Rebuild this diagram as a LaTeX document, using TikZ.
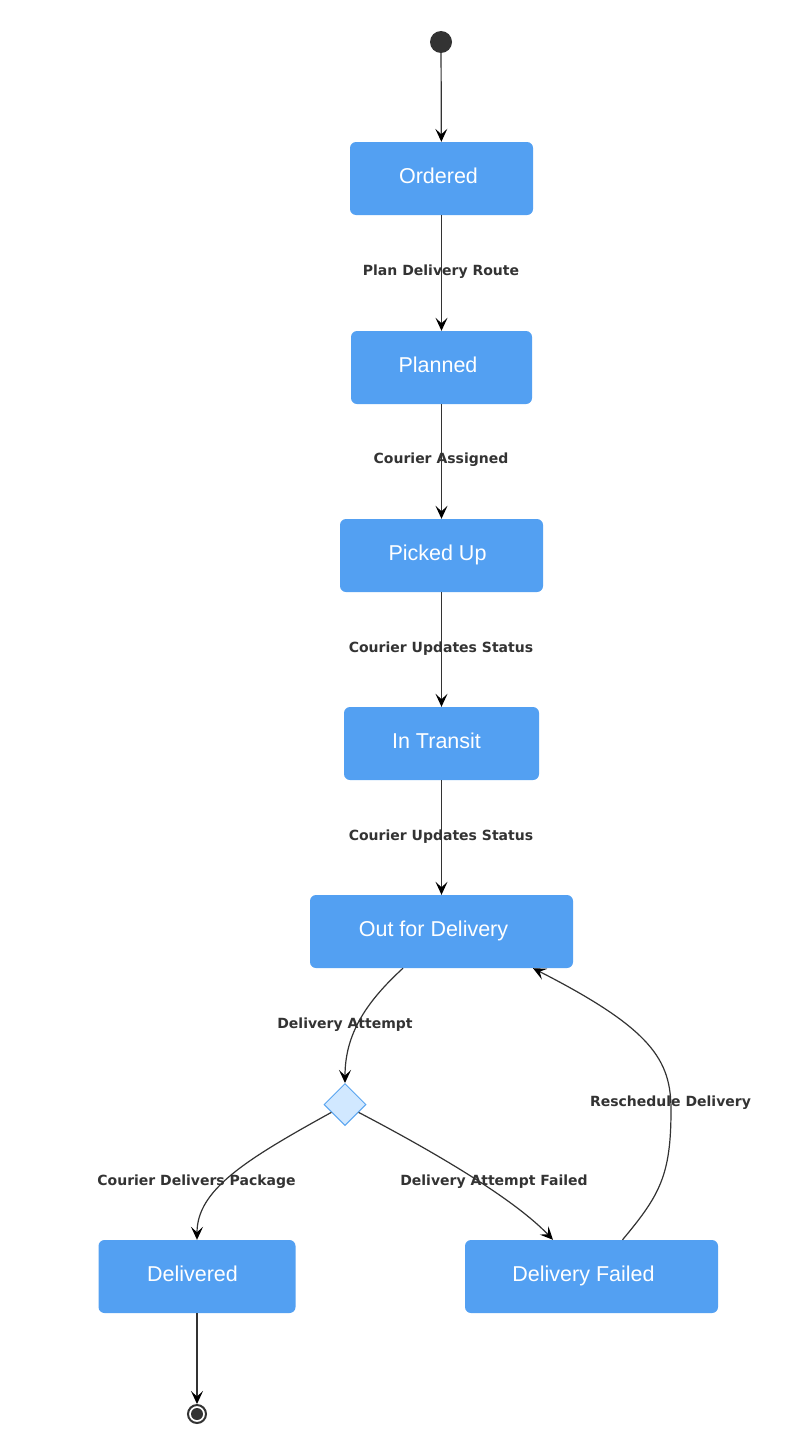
\documentclass[tikz,border=0pt]{standalone}
\usepackage{fontspec}
\setmainfont{Liberation Sans}
\newfontfamily\lblfont{DejaVu Sans}
\usetikzlibrary{arrows.meta,shapes.geometric}

\definecolor{boxblue}{RGB}{83,160,242}
\definecolor{ink}{RGB}{51,51,51}
\definecolor{choicefill}{RGB}{209,232,255}
\definecolor{choiceline}{RGB}{90,165,240}

\tikzset{
  state/.style={rectangle, rounded corners=6pt, fill=boxblue, text=white,
    minimum height=73pt, inner sep=0pt, text height=16pt, text depth=5.5pt,
    font=\fontsize{21.5}{24}\selectfont},
  lbl/.style={text=ink, inner sep=0pt, text height=10pt, text depth=0pt,
    font=\lblfont\bfseries\fontsize{14}{16}\selectfont},
  trans/.style={draw=ink, line width=1.2pt,
    -{Stealth[length=13pt,width=12pt,inset=5.5pt,black]}},
}

\begin{document}
\begin{tikzpicture}[x=1pt,y=-1pt]
 \fill[white] (0,0) rectangle (803,1437);
 \useasboundingbox (0,0) rectangle (803,1437);

 % states
 \node[circle, fill=ink, minimum size=22pt, inner sep=0pt] (start) at (441,42) {};
 \node[state, minimum width=183pt] (ordered) at (441.5,178.5) {\hspace*{-6pt}Ordered};
 \node[state, minimum width=181pt] (planned) at (441.5,367.5) {\hspace*{-7pt}Planned};
 \node[state, minimum width=203pt] (picked) at (441.5,555.5) {\hspace*{-8pt}Picked Up};
 \node[state, minimum width=195pt] (transit) at (441.5,743.5) {\hspace*{-10pt}In Transit};
 \node[state, minimum width=263pt] (outdel) at (441.5,931.5) {\hspace*{-16pt}Out for Delivery};
 \node[diamond, fill=choicefill, draw=choiceline, line width=1pt,
   minimum size=42pt, inner sep=0pt] (choice) at (345,1104.5) {};
 \node[state, minimum width=197pt] (delivered) at (197,1276.5) {\hspace*{-9pt}Delivered};
 \node[state, minimum width=253pt] (failed) at (591.5,1276.5) {\hspace*{-16pt}Delivery Failed};
 \node[circle, draw=ink, line width=2pt, minimum size=18pt, inner sep=0pt] (stop) at (197,1414) {};
 \fill[ink] (stop.center) circle (6pt);

 % transitions
 \draw[trans] (start) -- (ordered);
 \draw[trans] (ordered) -- (planned);
 \draw[trans] (planned) -- (picked);
 \draw[trans] (picked) -- (transit);
 \draw[trans] (transit) -- (outdel);
 \draw[trans] ([xshift=-38.5pt]outdel.south) .. controls (365,1003) and (345,1035) .. (choice.north);
 \draw[trans] (choice.210) .. controls (245,1160) and (197,1190) .. (delivered.north);
 \draw[trans] (choice.330) .. controls (440,1155) and (515,1200) .. ([xshift=-38.5pt]failed.north);
 \draw[trans] ([xshift=31pt]failed.north) .. controls (660,1195) and (671,1175) .. (671,1110)
   .. controls (671,1060) and (652,1029) .. ([xshift=91.5pt]outdel.south);
 \draw[trans] (delivered) -- (stop);

 % labels
 \node[lbl] (lplan) at (441,270) {Plan Delivery Route};
 \node[lbl] (lassign) at (441,458) {Courier Assigned};
 \node[lbl] (lstatusa) at (441,647) {Courier Updates Status};
 \node[lbl] (lstatusb) at (441,835) {Courier Updates Status};
 \node[lbl] (lattempt) at (345,1023) {Delivery Attempt};
 \node[lbl] (ldeliver) at (196.5,1180) {Courier Delivers Package};
 \node[lbl] (lfail) at (494,1180) {Delivery Attempt Failed};
 \node[lbl] (lresched) at (670.5,1101) {Reschedule Delivery};
\end{tikzpicture}
\end{document}
